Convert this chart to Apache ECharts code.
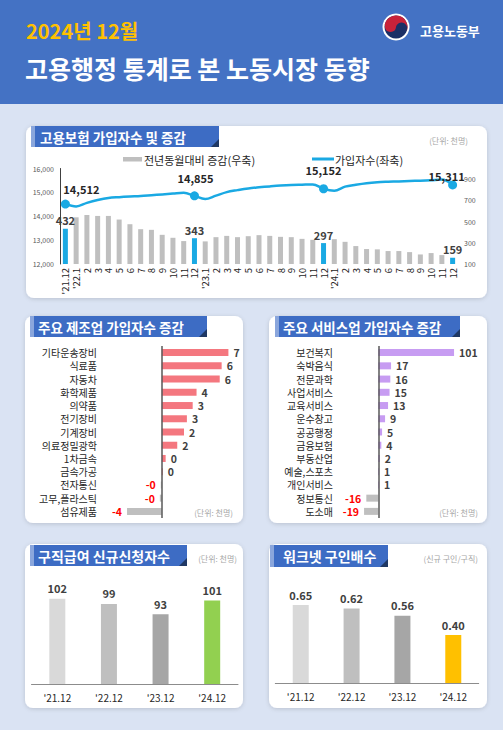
<!DOCTYPE html>
<html><head><meta charset="utf-8">
<script src="https://cdn.jsdelivr.net/npm/echarts@6/dist/echarts.min.js"></script>
<style>html,body{margin:0;padding:0;background:#dae3f3;}#c{width:503px;height:730px;}</style>
</head><body><div id="c"></div>
<script>
const FONT = '"Noto Sans CJK KR","Noto Sans",sans-serif';

// ---- Data ----
const months = ["'21.12","'22.1","2","3","4","5","6","7","8","9","10","11","12",
  "'23.1","2","3","4","5","6","7","8","9","10","11","12",
  "'24.1","2","3","4","5","6","7","8","9","10","11","12"];
const subscribers = [14512,14412,14560,14680,14766,14800,14825,14845,14880,14915,14950,14985,14855,
  14720,14863,15010,15094,15166,15212,15250,15284,15309,15322,15334,15152,
  15073,15240,15320,15385,15425,15445,15460,15475,15490,15512,15536,15311];
const yoyChange = [432,540,562,553,553,519,475,428,422,375,347,316,343,
  313,353,365,353,362,372,365,356,353,337,328,297,
  334,309,269,241,238,222,222,212,190,203,184,159];
const keyMonths = [0,12,24,36];

const mfgCats = ['기타운송장비','식료품','자동차','화학제품','의약품','전기장비','기계장비','의료정밀광학','1차금속','금속가공','전자통신','고무,플라스틱','섬유제품'];
const mfgVals = [6.9,6.2,6.0,3.6,3.2,2.6,2.3,1.6,0.4,0.1,-0.1,-0.2,-3.6];

const svcCats = ['보건복지','숙박음식','전문과학','사업서비스','교육서비스','운수창고','공공행정','금융보험','부동산업','예술,스포츠','개인서비스','정보통신','도소매'];
const svcVals = [101,17,16,15,13,9,5,4,2,1,1,-16,-19];

const yearCats = ["'21.12","'22.12","'23.12","'24.12"];
const claimants = [102,99,93,101];
const jobRatio = [0.65,0.62,0.56,0.40];

// ---- helpers ----
const fmtInt = v => {const r = Math.round(v); return (v < 0 ? '-' + Math.abs(r) : String(r));};
function hbarData(vals, posColor){
  return vals.map(v => ({
    value: v,
    itemStyle: {color: v >= 0 ? posColor : '#bfbfbf'},
    label: {position: v >= 0 ? 'right' : 'left', color: v >= 0 ? '#404040' : '#ff0000'}
  }));
}
function txt(text, x, y, size, color, weight, align){
  return {type:'text', z:20, style:{text, x, y, font:(weight||'normal')+' '+size+'px '+FONT, fill:color,
    textAlign:align||'left', align:align||'left', textVerticalAlign:'middle', verticalAlign:'middle'}};
}
function panel(x,y,w,h){
  return {type:'rect', z:-5, shape:{x,y,width:w,height:h,r:8},
    style:{fill:'#ffffff', shadowBlur:4, shadowColor:'rgba(0,0,0,0.15)', shadowOffsetY:1}};
}
function tab(x,y,w,h,label,tx,size){
  return [
    {type:'rect', z:5, shape:{x,y,width:w,height:h}, style:{fill:'#3d6cc4'}},
    {type:'rect', z:6, shape:{x,y,width:4,height:h}, style:{fill:'#8aa6dc'}},
    {type:'polygon', z:6, shape:{points:[[x+w-8,y+h],[x+w,y+h],[x+w,y+h-8]]}, style:{fill:'#1f3864'}},
    txt(label, tx, y+h/2, size, '#ffffff', 'bold')
  ];
}
const zeroLine = {silent:true, symbol:'none', label:{show:false},
  lineStyle:{color:'#595959', width:1.5, type:'solid'}, data:[{xAxis:0}]};

const graphics = [
  {type:'rect', z:-10, shape:{x:0,y:0,width:503,height:104}, style:{fill:'#4472c4'}},
  txt('2024년 12월', 26, 30, 20, '#ffc000', 'bold'),
  txt('고용행정 통계로 본 노동시장 동향', 25, 68, 25, '#ffffff', 'bold'),
  // logo
  {type:'circle', z:10, shape:{cx:396,cy:27,r:13.5}, style:{fill:'#ffffff'}},
  {type:'circle', z:11, shape:{cx:396,cy:27,r:11.5}, style:{fill:'#1b2f66'}},
  {type:'sector', z:12, shape:{cx:396,cy:27,r:11.5,r0:0,startAngle:Math.PI*1.05,endAngle:Math.PI*2.1,clockwise:true}, style:{fill:'#c8223a'}},
  {type:'circle', z:13, shape:{cx:390.5,cy:26.5,r:5.6}, style:{fill:'#c8223a'}},
  {type:'circle', z:13, shape:{cx:401.5,cy:28,r:5.6}, style:{fill:'#1b2f66'}},
  txt('고용노동부', 420, 30, 13, '#ffffff', 'bold'),
  panel(26,126,461,172), panel(25,316,218,207), panel(269,316,218,207),
  panel(25,544,218,164), panel(269,544,218,164),
  ...tab(31,126,188,21,'고용보험 가입자수 및 증감',40,13.5),
  ...tab(30,316,177,21,'주요 제조업 가입자수 증감',38,13.5),
  ...tab(275,316,185,21,'주요 서비스업 가입자수 증감',283,13.5),
  ...tab(30,545,157,21,'구직급여 신규신청자수',38,14),
  ...tab(270,545,118,22,'워크넷 구인배수',283,14),
  txt('(단위: 천명)', 468, 140, 8, '#a6a6a6', 'normal', 'right'),
  txt('(단위: 천명)', 233, 512, 8, '#a6a6a6', 'normal', 'right'),
  txt('(단위: 천명)', 478, 512, 8, '#a6a6a6', 'normal', 'right'),
  txt('(단위: 천명)', 237, 558, 8, '#a6a6a6', 'normal', 'right'),
  txt('(신규 구인/구직)', 478, 558, 8, '#a6a6a6', 'normal', 'right'),
  // legend
  {type:'rect', z:10, shape:{x:123,y:157,width:19,height:4.5}, style:{fill:'#bfbfbf'}},
  txt('전년동월대비 증감(우축)', 144, 159.5, 11, '#262626'),
  {type:'line', z:10, shape:{x1:312,y1:159,x2:334,y2:159}, style:{stroke:'#1aa9e3', lineWidth:3}},
  txt('가입자수(좌축)', 335, 159.5, 11, '#262626')
];

const lineOffsets = {0:[16,0], 12:[1,-3], 24:[0,-3.5], 36:[-6,6]};
const hbarLabel = {show:true, distance:5, fontSize:10.5, lineHeight:11, fontWeight:'bold', formatter:p=>fmtInt(p.value)};

const option = {
  animation:false,
  textStyle:{fontFamily:FONT},
  graphic:{elements:graphics},
  grid:[
    {left:60, top:168.5, width:398, height:95.5, outerBoundsMode:'none', containLabel:false},
    {left:100, top:346, width:140, height:172, outerBoundsMode:'none', containLabel:false},
    {left:340, top:346, width:140, height:172, outerBoundsMode:'none', containLabel:false},
    {left:31.5, top:575, width:206.5, height:109, outerBoundsMode:'none', containLabel:false},
    {left:275.3, top:575, width:203.4, height:108, outerBoundsMode:'none', containLabel:false}
  ],
  xAxis:[
    {type:'category', gridIndex:0, data:months, axisLine:{show:false}, axisTick:{show:false},
      axisLabel:{interval:0, rotate:90, fontSize:9.5, lineHeight:9.5, color:'#262626', margin:4, fontFamily:FONT}},
    {type:'value', gridIndex:1, min:-6.4, max:8.1, show:false},
    {type:'value', gridIndex:2, min:-51.1, max:135.6, show:false},
    {type:'category', gridIndex:3, data:yearCats, axisLine:{lineStyle:{color:'#8c8c8c'}}, axisTick:{show:false},
      axisLabel:{fontSize:10, color:'#262626', margin:8, fontFamily:FONT}},
    {type:'category', gridIndex:4, data:yearCats, axisLine:{lineStyle:{color:'#8c8c8c'}}, axisTick:{show:false},
      axisLabel:{fontSize:10, color:'#262626', margin:8, fontFamily:FONT}}
  ],
  yAxis:[
    {type:'value', gridIndex:0, min:12000, max:16000, interval:1000, splitLine:{show:false},
      axisLine:{show:true, lineStyle:{color:'#404040'}}, axisTick:{show:false},
      axisLabel:{fontSize:7, color:'#595959', margin:6, formatter:v=>v.toLocaleString('en-US')}},
    {type:'value', gridIndex:0, position:'right', min:100, max:1000, interval:200, splitLine:{show:false},
      axisLine:{show:false}, axisTick:{show:false},
      axisLabel:{fontSize:7, color:'#595959', margin:6, showMaxLabel:false}},
    {type:'category', gridIndex:1, data:mfgCats, inverse:true,
      axisLine:{show:false, onZero:false}, axisTick:{show:false},
      axisLabel:{interval:0, fontSize:10, lineHeight:10, color:'#262626', margin:3, fontFamily:FONT}},
    {type:'category', gridIndex:2, data:svcCats, inverse:true,
      axisLine:{show:false, onZero:false}, axisTick:{show:false},
      axisLabel:{interval:0, fontSize:10, lineHeight:10, color:'#262626', margin:7, fontFamily:FONT}},
    {type:'value', gridIndex:3, min:52, max:116, show:false},
    {type:'value', gridIndex:4, min:0, max:0.9, show:false}
  ],
  series:[
    {type:'bar', xAxisIndex:0, yAxisIndex:1, barWidth:5,
      label:{show:false, position:'top', distance:3, fontSize:11, fontWeight:'bold', color:'#404040'},
      data:yoyChange.map((v,i)=>keyMonths.includes(i)
        ? {value:v, itemStyle:{color:'#1aa9e3'}, label:{show:true}}
        : {value:v, itemStyle:{color:'#bfbfbf'}})},
    {type:'line', xAxisIndex:0, yAxisIndex:0, smooth:0.35, showAllSymbol:true, symbol:'circle',
      symbolSize:(v,p)=>keyMonths.includes(p.dataIndex)?9:0,
      lineStyle:{color:'#1aa9e3', width:2.5}, itemStyle:{color:'#1aa9e3'},
      label:{show:false, position:'top', distance:5, fontSize:11, fontWeight:'bold', color:'#262626',
        formatter:p=>p.value.toLocaleString('en-US')},
      data:subscribers.map((v,i)=>keyMonths.includes(i)
        ? {value:v, label:{show:true, offset:lineOffsets[i]}} : v)},
    {type:'bar', xAxisIndex:1, yAxisIndex:2, barWidth:7, label:hbarLabel, markLine:zeroLine,
      data:hbarData(mfgVals,'#f4777f')},
    {type:'bar', xAxisIndex:2, yAxisIndex:3, barWidth:7, label:hbarLabel, markLine:zeroLine,
      data:hbarData(svcVals,'#c79cf2')},
    {type:'bar', xAxisIndex:3, yAxisIndex:4, barWidth:16,
      label:{show:true, position:'top', distance:5, fontSize:11, fontWeight:'bold', color:'#404040'},
      data:claimants.map((v,i)=>({value:v, itemStyle:{color:['#d9d9d9','#bfbfbf','#a6a6a6','#92d050'][i]}}))},
    {type:'bar', xAxisIndex:4, yAxisIndex:5, barWidth:16,
      label:{show:true, position:'top', distance:5, fontSize:11, fontWeight:'bold', color:'#404040',
        formatter:p=>p.value.toFixed(2)},
      data:jobRatio.map((v,i)=>({value:v, itemStyle:{color:['#d9d9d9','#bfbfbf','#a6a6a6','#ffc000'][i]}}))}
  ]
};
const chart = echarts.init(document.getElementById('c'), null, {renderer:'svg', width:503, height:730});
chart.setOption(option);
</script></body></html>
